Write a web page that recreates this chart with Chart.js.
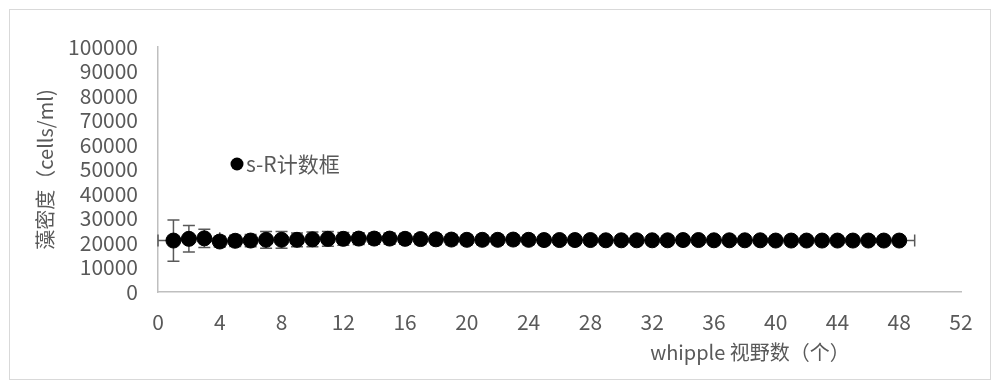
<!DOCTYPE html>
<html>
<head>
<meta charset="utf-8">
<script src="https://cdn.jsdelivr.net/npm/chart.js@4.4.0/dist/chart.umd.min.js"></script>
<style>
  html, body { margin: 0; padding: 0; background: #fff; }
  canvas { display: block; }
</style>
</head>
<body>
<canvas id="densityChart" width="1000" height="387"></canvas>
<script>
// whipple field count vs. algal density
const seriesName = "s-R计数框";
const fieldCounts = [1, 2, 3, 4, 5, 6, 7, 8, 9, 10, 11, 12, 13, 14, 15, 16,
    17, 18, 19, 20, 21, 22, 23, 24, 25, 26, 27, 28, 29, 30, 31, 32,
    33, 34, 35, 36, 37, 38, 39, 40, 41, 42, 43, 44, 45, 46, 47, 48];
const densities = [21000, 21700, 21900, 20600, 20900, 21000, 21300, 21300, 21300, 21500, 21700, 21700, 21800, 21800, 21800, 21700,
    21600, 21500, 21400, 21300, 21300, 21300, 21400, 21300, 21200, 21200, 21200, 21200, 21100, 21100, 21100, 21100,
    21100, 21200, 21200, 21100, 21100, 21100, 21100, 21000, 21000, 21000, 21000, 21000, 21000, 21000, 21000, 21000];
const densityErrors = [8400, 5400, 3700, 2200, 2300, 2500, 3400, 3400, 2800, 3000, 3000, 2600, 2400, 2300, 2300, 2200,
    2200, 2100, 2100, 2000, 2000, 2000, 2000, 2000, 1900, 1900, 1900, 1900, 1900, 1800, 1800, 1800,
    1800, 1800, 1800, 1800, 1700, 1700, 1700, 1700, 1700, 1700, 1700, 1700, 1700, 1700, 1700, 1700];
const fieldError = 1;

const xTitle = "whipple 视野数（个）";
const yTitle = "藻密度（cells/ml)";

const fontFamily = '"Noto Sans CJK SC", "Noto Sans", sans-serif';
const textColor = "#595959";
const axisColor = "#bfbfbf";

// error bars sit underneath the markers
const errorBars = {
    id: "errorBars",
    beforeDatasetsDraw(chart) {
        const { ctx, scales: { x, y } } = chart;
        const cap = 6;
        ctx.save();
        ctx.strokeStyle = "#595959";
        ctx.lineWidth = 1.5;
        ctx.beginPath();
        fieldCounts.forEach((f, i) => {
            const px = x.getPixelForValue(f);
            const py = y.getPixelForValue(densities[i]);
            const top = y.getPixelForValue(densities[i] + densityErrors[i]);
            const bot = y.getPixelForValue(densities[i] - densityErrors[i]);
            const left = x.getPixelForValue(f - fieldError);
            const right = x.getPixelForValue(f + fieldError);
            ctx.moveTo(px, top); ctx.lineTo(px, bot);
            ctx.moveTo(px - cap, top); ctx.lineTo(px + cap, top);
            ctx.moveTo(px - cap, bot); ctx.lineTo(px + cap, bot);
            ctx.moveTo(left, py); ctx.lineTo(right, py);
            ctx.moveTo(left, py - cap); ctx.lineTo(left, py + cap);
            ctx.moveTo(right, py - cap); ctx.lineTo(right, py + cap);
        });
        ctx.stroke();
        ctx.restore();
    }
};

// frame, legend and x-axis title
const decorations = {
    id: "decorations",
    beforeDraw(chart) {
        const ctx = chart.ctx;
        ctx.save();
        ctx.fillStyle = "#fff";
        ctx.fillRect(0, 0, chart.width, chart.height);
        ctx.strokeStyle = "#d9d9d9";
        ctx.lineWidth = 1;
        ctx.strokeRect(9.5, 9.5, 981, 370);
        ctx.restore();
    },
    afterDraw(chart) {
        const ctx = chart.ctx;
        ctx.save();
        ctx.fillStyle = "#000";
        ctx.beginPath();
        ctx.arc(237, 164, 6.5, 0, Math.PI * 2);
        ctx.fill();
        ctx.fillStyle = textColor;
        ctx.font = "21px " + fontFamily;
        ctx.textBaseline = "middle";
        ctx.textAlign = "left";
        ctx.fillText(seriesName, 246, 164);
        ctx.font = "20px " + fontFamily;
        ctx.textAlign = "center";
        ctx.fillText(xTitle, 750, 352);
        ctx.restore();
    }
};

new Chart(document.getElementById("densityChart"), {
    type: "scatter",
    data: {
        datasets: [{
            label: seriesName,
            data: fieldCounts.map((f, i) => ({ x: f, y: densities[i] })),
            backgroundColor: "#000",
            borderColor: "#000",
            pointRadius: 7.5,
            pointHoverRadius: 7.5
        }]
    },
    options: {
        responsive: false,
        animation: false,
        devicePixelRatio: 1,
        layout: { padding: { left: 30, right: 39, top: 47, bottom: 0 } },
        plugins: {
            legend: { display: false },
            tooltip: { enabled: false }
        },
        scales: {
            x: {
                type: "linear",
                min: 0,
                max: 52,
                grid: { display: false, drawTicks: false },
                border: { display: true, color: axisColor, width: 1.5 },
                ticks: {
                    stepSize: 4,
                    autoSkip: false,
                    maxRotation: 0,
                    padding: 17,
                    color: textColor,
                    font: { family: fontFamily, size: 21 },
                    callback: v => String(v)
                },
                afterFit(scale) { scale.height = 95; }
            },
            y: {
                min: 0,
                max: 100000,
                grid: { display: false, drawTicks: false },
                border: { display: true, color: axisColor, width: 1.5 },
                ticks: {
                    stepSize: 10000,
                    autoSkip: false,
                    padding: 20,
                    color: textColor,
                    font: { family: fontFamily, size: 21 },
                    callback: v => String(v)
                },
                title: {
                    display: true,
                    text: yTitle,
                    color: textColor,
                    font: { family: fontFamily, size: 20 },
                    padding: { top: 3, bottom: 3 }
                },
                afterFit(scale) { scale.width = 128; }
            }
        }
    },
    plugins: [errorBars, decorations]
});
</script>
</body>
</html>
